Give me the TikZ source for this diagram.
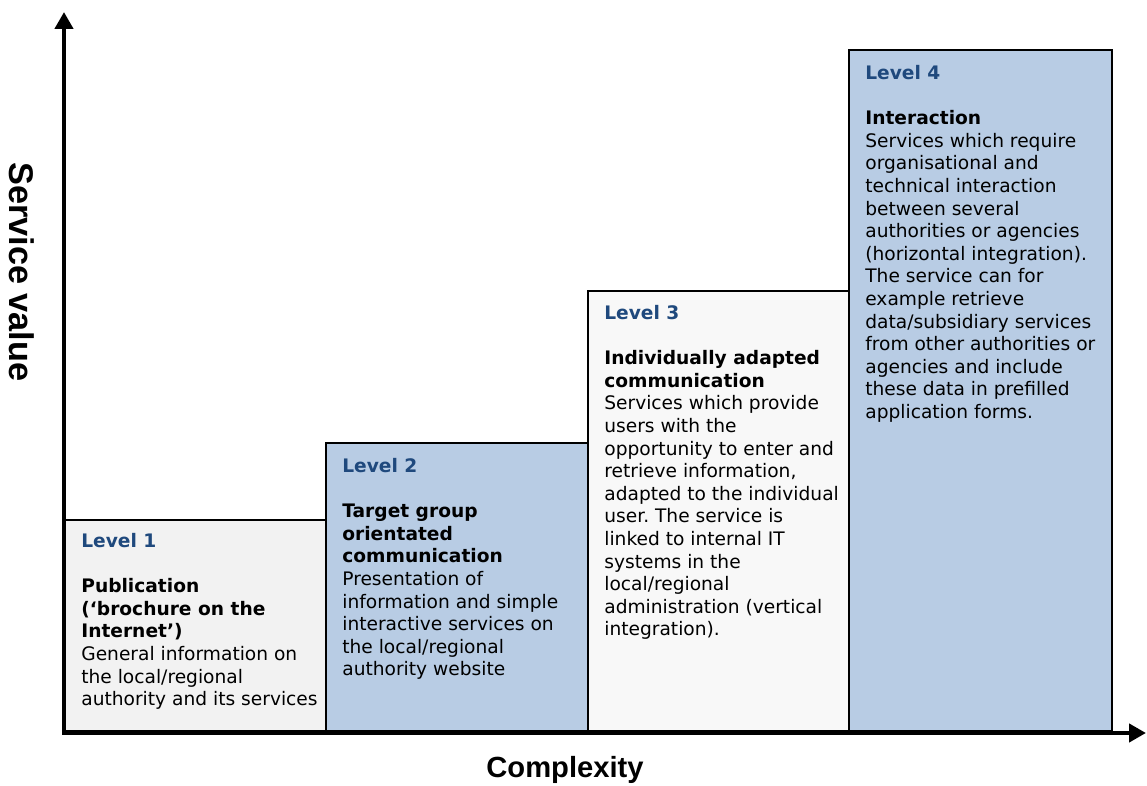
\documentclass[tikz,border=0pt]{standalone}
\usepackage{fontspec}
\setmainfont{DejaVu Sans}
\newfontfamily\axisfont{Liberation Sans}
\usetikzlibrary{arrows.meta}
\frenchspacing

\definecolor{levelblue}{HTML}{1F497D}
\definecolor{boxblue}{HTML}{B8CCE4}
\definecolor{boxgrey}{HTML}{F2F2F2}
\definecolor{boxpale}{HTML}{F8F8F8}

% Heading of one level, followed by an empty line.
\newcommand{\lvlhead}[1]{\textcolor{levelblue}{\textbf{Level #1}}\\[12.86pt]}

\begin{document}
\begin{tikzpicture}[%
        x = 0.02cm,
        y = -0.02cm,
        > = {Triangle[length = 0.34cm, width = 0.36cm]},
        levelbox/.style = {draw = black, line width = 0.3mm},
        boxtext/.style = {%
            anchor = north west,
            inner sep = 0pt,
            align = left,
            font = \fontsize{10.6}{12.86}\selectfont
        },
        axis/.style = {line width = 0.9mm, ->},
        axislabel/.style = {font = \axisfont\bfseries\fontsize{16.6}{20}\selectfont}
    ]

    % Fix the size of the picture.
    \useasboundingbox (0, 0) rectangle (1147, 786);

    % coordinates
    \coordinate (O) at (64, 733); % Origin.
    \coordinate (X) at (1146, 733); % End of complexity axis.
    \coordinate (Y) at (64, 12); % End of service value axis.

    % The four levels.
    \draw[levelbox, fill = boxgrey] (65, 520) rectangle (326, 731);
    \draw[levelbox, fill = boxblue] (326, 443) rectangle (588, 731);
    \draw[levelbox, fill = boxpale] (588, 291) rectangle (849, 731);
    \draw[levelbox, fill = boxblue] (849, 50) rectangle (1112, 731);

    % Texts of the levels.
    \node[boxtext] (lvlone) at (81, 533) {%
        \lvlhead{1}
        \textbf{Publication}\\
        \textbf{(`brochure on the}\\
        \textbf{Internet')}\\
        General information on\\
        the local/regional\\
        authority and its services};

    \node[boxtext] (lvltwo) at (342, 458) {%
        \lvlhead{2}
        \textbf{Target group}\\
        \textbf{orientated}\\
        \textbf{communication}\\
        Presentation of\\
        information and simple\\
        interactive services on\\
        the local/regional\\
        authority website};

    \node[boxtext] (lvlthree) at (604, 305) {%
        \lvlhead{3}
        \textbf{Individually adapted}\\
        \textbf{communication}\\
        Services which provide\\
        users with the\\
        opportunity to enter and\\
        retrieve information,\\
        adapted to the individual\\
        user. The service is\\
        linked to internal IT\\
        systems in the\\
        local/regional\\
        administration (vertical\\
        integration).};

    \node[boxtext] (lvlfour) at (865, 65) {%
        \lvlhead{4}
        \textbf{Interaction}\\
        Services which require\\
        organisational and\\
        technical interaction\\
        between several\\
        authorities or agencies\\
        (horizontal integration).\\
        The service can for\\
        example retrieve\\
        data/subsidiary services\\
        from other authorities or\\
        agencies and include\\
        these data in prefilled\\
        application forms.};

    % Axes.
    \draw[axis] (62, 733) to (X);
    \draw[axis] (64, 735) to (Y);

    % Axis labels.
    \node[axislabel, rotate = -90, font = \axisfont\bfseries\fontsize{19.5}{23}\selectfont]
        (yname) at (22, 272) {Service value};
    \node[axislabel] (xname) at (565, 770) {Complexity};
\end{tikzpicture}
\end{document}
